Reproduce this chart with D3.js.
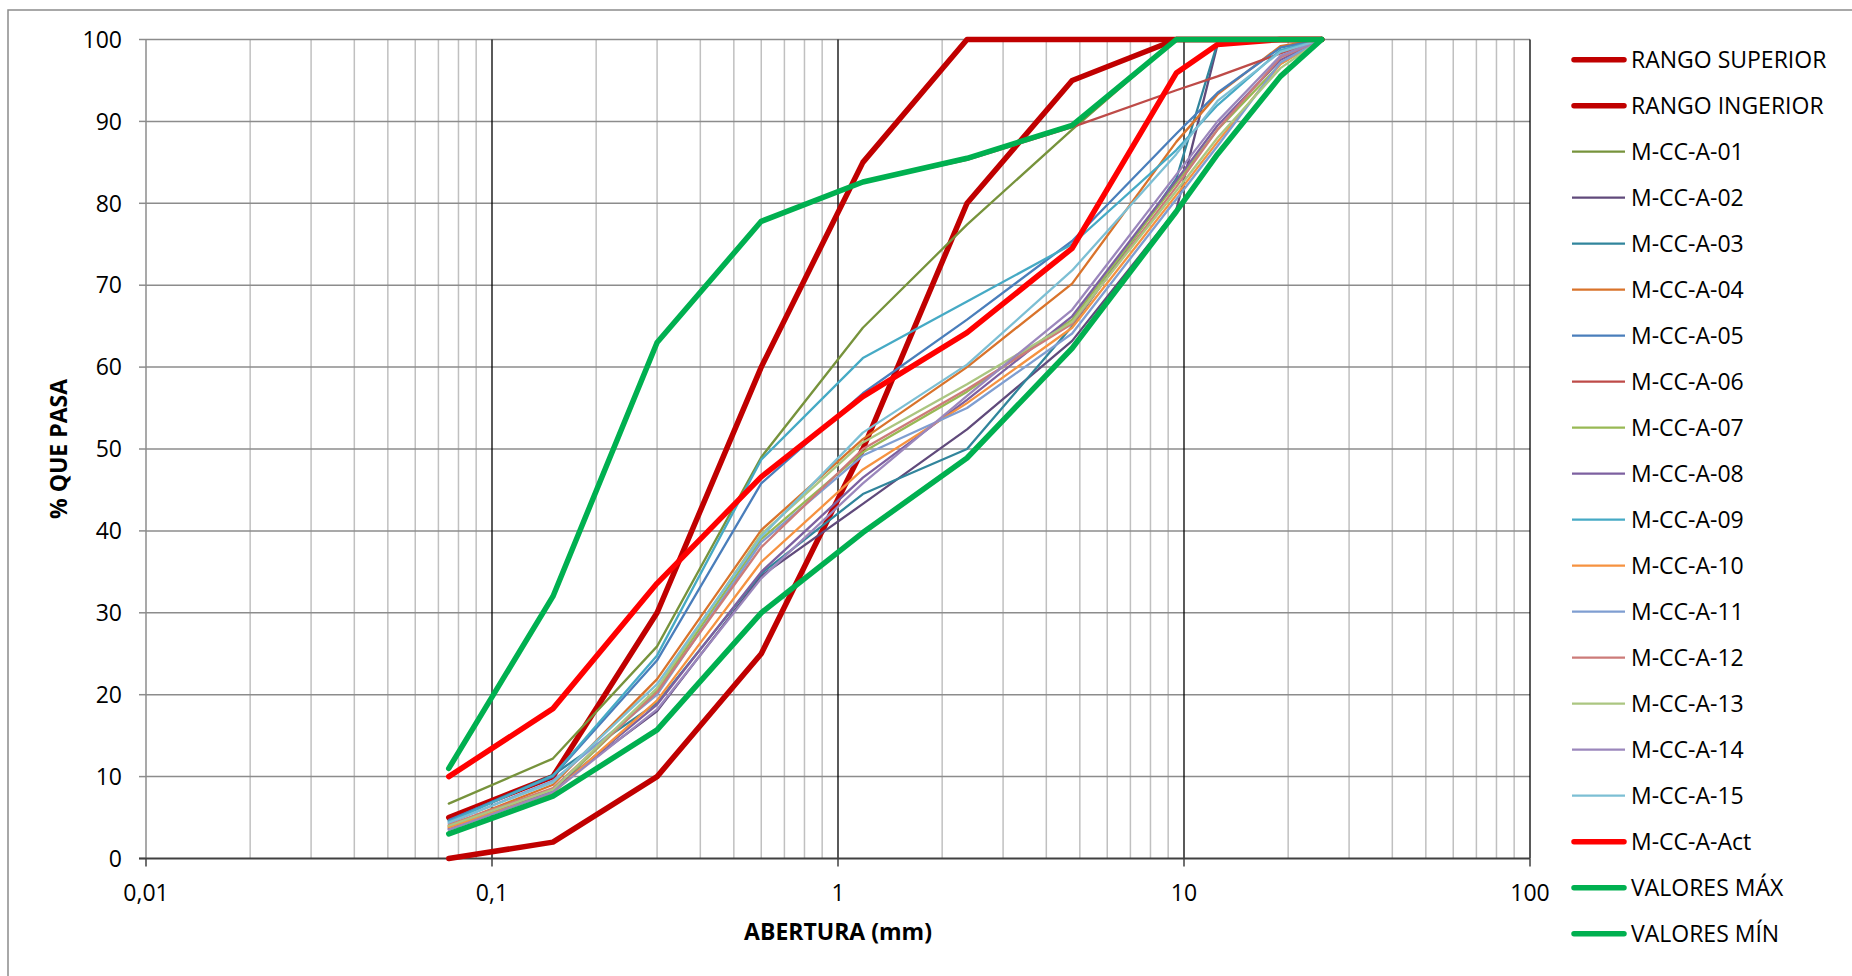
<!DOCTYPE html>
<html><head><meta charset="utf-8">
<script src="https://cdn.jsdelivr.net/npm/d3@7"></script>
<style>body{margin:0;background:#fff} svg{display:block} text{font-family:"Open Sans",sans-serif;fill:#000}</style>
</head><body><svg id="c" width="1852" height="976"></svg>
<script>
// ---- DATA ----
const sizes = [0.075, 0.15, 0.3, 0.6, 1.18, 2.36, 4.75, 9.5, 12.5, 19, 25];
const seriesNames = ["RANGO SUPERIOR","RANGO INGERIOR","M-CC-A-01","M-CC-A-02","M-CC-A-03","M-CC-A-04","M-CC-A-05","M-CC-A-06","M-CC-A-07","M-CC-A-08","M-CC-A-09","M-CC-A-10","M-CC-A-11","M-CC-A-12","M-CC-A-13","M-CC-A-14","M-CC-A-15","M-CC-A-Act","VALORES MÁX","VALORES MÍN"];
const rangoSuperior = [5, 10, 30, 60, 85, 100, 100, 100, 100, 100, 100];
const rangoInferior = [0, 2, 10, 25, 50, 80, 95, 100, 100, 100, 100];
const mcc01 = [6.7, 12.2, 25.9, 49.0, 64.8, 77.4, 89.0, 100, 100, 100, 100];
const mcc02 = [3.6, 8.5, 18.0, 34.5, 43.3, 52.4, 63.2, 79.2, 99.4, 100, 100];
const mcc03 = [4.6, 10.2, 19.0, 34.8, 44.5, 50.0, 65.0, 83.0, 99.6, 100, 100];
const mcc04 = [4.0, 9.0, 21.9, 40.1, 51.2, 60.0, 70.2, 87.5, 93.3, 99.2, 100];
const mcc05 = [4.7, 10.0, 24.2, 45.8, 56.8, 65.8, 75.4, 88.5, 93.5, 99.0, 100];
const mcc06 = [11, 32, 63, 77.8, 82.6, 85.3, 89.3, 93.8, 95.5, 98.3, 100];
const mcc07 = [3.9, 8.2, 20.5, 39.0, 49.6, 57.0, 65.8, 82.5, 89.0, 97.0, 100];
const mcc08 = [3.7, 8.3, 18.8, 35.0, 46.5, 56.0, 66.2, 82.8, 89.5, 97.5, 100];
const mcc09 = [4.5, 10.1, 24.8, 48.7, 61.1, 68.0, 75.0, 86.5, 92.0, 98.7, 100];
const mcc10 = [3.8, 8.0, 19.3, 36.2, 47.5, 55.6, 64.8, 81.0, 87.5, 97.0, 100];
const mcc11 = [4.3, 9.5, 20.0, 38.6, 49.2, 55.0, 64.1, 80.5, 87.0, 97.2, 100];
const mcc12 = [4.1, 8.6, 20.3, 38.0, 50.0, 57.3, 65.3, 82.0, 89.0, 97.8, 100];
const mcc13 = [4.0, 8.4, 20.8, 39.6, 50.8, 57.9, 65.5, 81.5, 88.0, 96.5, 100];
const mcc14 = [3.5, 8.1, 18.2, 34.2, 45.8, 56.5, 67.0, 83.5, 90.0, 98.0, 100];
const mcc15 = [4.4, 9.3, 21.3, 39.3, 52.0, 60.3, 71.8, 86.0, 92.5, 98.5, 100];
const mccAct = [10, 18.3, 33.6, 46.6, 56.4, 64.2, 74.5, 95.9, 99.4, 100, 100];
const valoresMax = [11, 32, 63, 77.8, 82.6, 85.5, 89.5, 100, 100, 100, 100];
const valoresMin = [3, 7.6, 15.7, 30, 39.8, 48.9, 62.3, 79, 86, 95.5, 100];
const xTickValues = [0.01, 0.1, 1, 10, 100];
const xTickLabels = ["0,01", "0,1", "1", "10", "100"];
const yTickValues = [0, 10, 20, 30, 40, 50, 60, 70, 80, 90, 100];

// ---- STYLES ----
const seriesData = [rangoSuperior, rangoInferior, mcc01, mcc02, mcc03, mcc04, mcc05, mcc06, mcc07, mcc08, mcc09, mcc10, mcc11, mcc12, mcc13, mcc14, mcc15, mccAct, valoresMax, valoresMin];
const colors = ["#C00000","#C00000","#77933C","#604A7B","#31859C","#D9732B","#4A7EBB","#BE4B48","#98B954","#7D60A0","#46AAC5","#F69240","#7F9ED1","#CC7B79","#ABC681","#9B87BC","#7CBFD4","#FF0000","#00B050","#00B050"];
const thick = [true,true,false,false,false,false,false,false,false,false,false,false,false,false,false,false,false,true,true,true];

const svg = d3.select("#c");
const L = 146, R = 1530, T = 39.5, B = 858.5;
const x = d3.scaleLog().domain([0.01, 100]).range([L, R]);
const y = d3.scaleLinear().domain([0, 100]).range([B, T]);

// chart border
svg.append("rect").attr("x", 8).attr("y", 10).attr("width", 1900).attr("height", 1000)
  .attr("fill", "none").attr("stroke", "#8C8C8C").attr("stroke-width", 1.5);

// minor vertical gridlines
const minor = [];
for (let k = -2; k <= 1; k++) for (let mm = 2; mm <= 9; mm++) minor.push(mm * Math.pow(10, k));
svg.append("g").selectAll("line").data(minor).join("line")
  .attr("x1", d => x(d)).attr("x2", d => x(d)).attr("y1", T).attr("y2", B)
  .attr("stroke", "#C0C0C0").attr("stroke-width", 1.5);

// horizontal gridlines
svg.append("g").selectAll("line").data(yTickValues.filter(v => v > 0)).join("line")
  .attr("x1", L).attr("x2", R).attr("y1", d => y(d)).attr("y2", d => y(d))
  .attr("stroke", "#8C8C8C").attr("stroke-width", 1.5);

// major vertical gridlines
svg.append("g").selectAll("line").data(xTickValues.slice(1)).join("line")
  .attr("x1", d => x(d)).attr("x2", d => x(d)).attr("y1", T).attr("y2", B)
  .attr("stroke", "#000").attr("stroke-width", 1.3);

// y axis
svg.append("line").attr("x1", L).attr("x2", L).attr("y1", T).attr("y2", B).attr("stroke", "#8C8C8C").attr("stroke-width", 1.5);
svg.append("g").selectAll("line").data(yTickValues).join("line")
  .attr("x1", L - 7).attr("x2", L).attr("y1", d => y(d)).attr("y2", d => y(d))
  .attr("stroke", "#8C8C8C").attr("stroke-width", 1.5);
svg.append("g").selectAll("text").data(yTickValues).join("text")
  .attr("x", 122).attr("y", d => y(d)).attr("dy", "0.36em").attr("text-anchor", "end")
  .attr("font-size", 23).text(d => d);

// x axis
svg.append("g").selectAll("line").data(xTickValues).join("line")
  .attr("x1", d => x(d)).attr("x2", d => x(d)).attr("y1", B).attr("y2", B + 8)
  .attr("stroke", "#404040").attr("stroke-width", 1.5);
svg.append("line").attr("x1", L - 7).attr("x2", R).attr("y1", B).attr("y2", B).attr("stroke", "#404040").attr("stroke-width", 2);
svg.append("g").selectAll("text").data(xTickValues).join("text")
  .attr("x", d => x(d)).attr("y", 893).attr("dy", "0.36em").attr("text-anchor", "middle")
  .attr("font-size", 23).text((d, i) => xTickLabels[i]);

// axis titles
svg.append("text").attr("x", (L + R) / 2).attr("y", 932).attr("dy", "0.36em").attr("text-anchor", "middle")
  .attr("font-size", 23).attr("font-weight", "bold").text("ABERTURA (mm)");
svg.append("text").attr("transform", `translate(59,${(T + B) / 2}) rotate(-90)`).attr("dy", "0.36em")
  .attr("text-anchor", "middle").attr("font-size", 23).attr("font-weight", "bold").text("% QUE PASA");

// series lines
const line = d3.line().x((d, i) => x(sizes[i])).y(d => y(d));
svg.append("g").selectAll("path").data(seriesData).join("path")
  .attr("d", d => line(d)).attr("fill", "none")
  .attr("stroke", (d, i) => colors[i]).attr("stroke-width", (d, i) => thick[i] ? 5.5 : 2.3)
  .attr("stroke-linejoin", "round").attr("stroke-linecap", "round");

// legend
const lg = svg.append("g").selectAll("g").data(seriesNames).join("g")
  .attr("transform", (d, i) => `translate(0,${59.7 + 46 * i})`);
lg.append("line").attr("x1", (d, i) => thick[i] ? 1574 : 1572).attr("x2", (d, i) => thick[i] ? 1624 : 1625)
  .attr("y1", 0).attr("y2", 0).attr("stroke", (d, i) => colors[i])
  .attr("stroke-width", (d, i) => thick[i] ? 5.5 : 2.3).attr("stroke-linecap", (d, i) => thick[i] ? "round" : "butt");
lg.append("text").attr("x", 1631).attr("y", 0).attr("dy", "0.36em").attr("font-size", 23).text(d => d);
</script></body></html>
